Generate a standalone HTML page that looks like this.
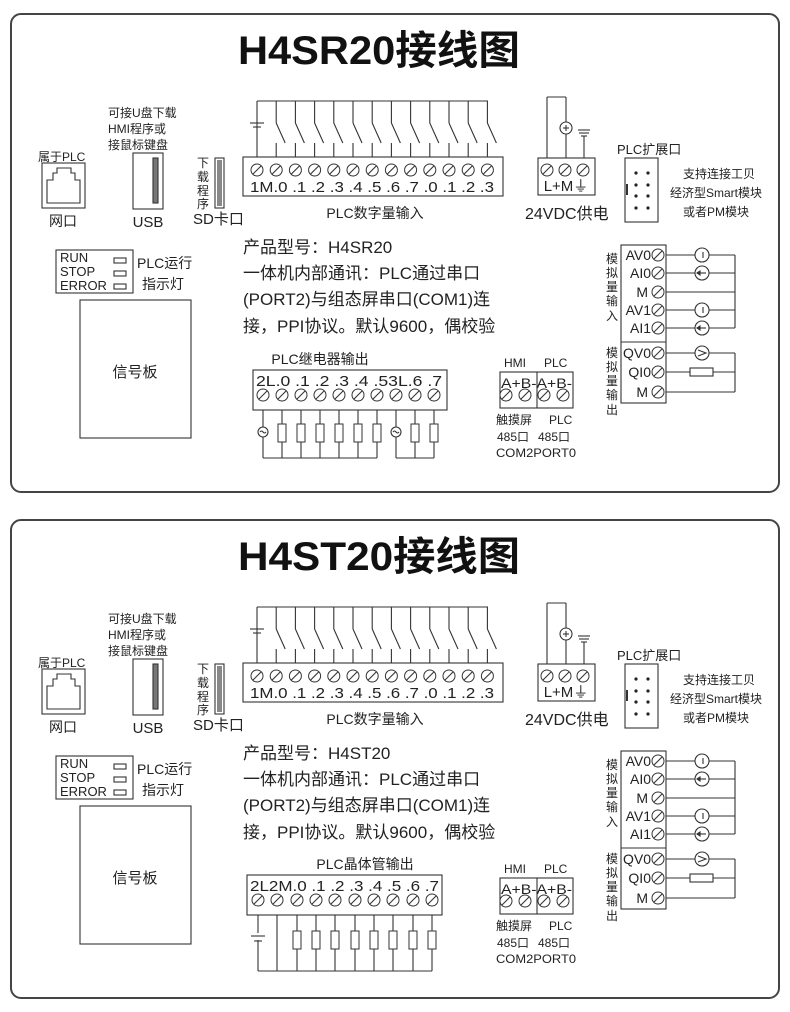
<!DOCTYPE html>
<html><head><meta charset="utf-8"><style>
html,body{margin:0;padding:0;background:#fff;}
svg{display:block;font-family:"Liberation Sans","Noto Sans CJK SC",sans-serif;}
</style></head><body>
<svg width="790" height="1012" viewBox="0 0 790 1012" xmlns="http://www.w3.org/2000/svg">
<defs>
<g id="s"><circle r="6" fill="#fff" stroke="#333" stroke-width="1"/><line x1="-4" y1="4" x2="4" y2="-4" stroke="#333" stroke-width="1.1"/></g>
<g id="res"><rect x="-4" y="-9" width="8" height="18" fill="#fff" stroke="#333" stroke-width="1"/></g>
<g id="sw">
<line x1="0" y1="0" x2="0" y2="22" /><line x1="0" y1="22" x2="9" y2="42"/><line x1="0" y1="42" x2="0" y2="63"/>
</g>
<g id="common" stroke="#333" fill="none" stroke-width="1.1">
 <line x1="257" y1="101" x2="488" y2="101"/>
 <line x1="257" y1="101" x2="257" y2="164"/>
 <line x1="250" y1="123" x2="264" y2="123"/><line x1="253" y1="127" x2="261" y2="127"/>
 <use href="#sw" x="276.2" y="101"/><use href="#sw" x="295.4" y="101"/><use href="#sw" x="314.6" y="101"/>
 <use href="#sw" x="333.8" y="101"/><use href="#sw" x="353" y="101"/><use href="#sw" x="372.2" y="101"/>
 <use href="#sw" x="391.4" y="101"/><use href="#sw" x="410.6" y="101"/><use href="#sw" x="429.8" y="101"/>
 <use href="#sw" x="449" y="101"/><use href="#sw" x="468.2" y="101"/><use href="#sw" x="487.4" y="101"/>
 <rect x="243" y="157" width="260" height="39" fill="#fff"/>
 <use href="#s" x="257" y="170"/><use href="#s" x="276.2" y="170"/><use href="#s" x="295.4" y="170"/><use href="#s" x="314.6" y="170"/>
 <use href="#s" x="333.8" y="170"/><use href="#s" x="353" y="170"/><use href="#s" x="372.2" y="170"/><use href="#s" x="391.4" y="170"/>
 <use href="#s" x="410.6" y="170"/><use href="#s" x="429.8" y="170"/><use href="#s" x="449" y="170"/><use href="#s" x="468.2" y="170"/><use href="#s" x="487.4" y="170"/>
 <rect x="42" y="163" width="43" height="45"/>
 <path d="M47 203 V180 H53 V173 H57 V168 H71 V173 H75 V180 H80 V203 Z"/>
 <rect x="133" y="153" width="30" height="56"/>
 <rect x="153" y="158" width="5" height="45" fill="#777"/>
 <rect x="215" y="158" width="9" height="50"/>
 <rect x="217" y="160" width="5" height="46" fill="#888" stroke="none"/>
 <rect x="56" y="250" width="77" height="43"/>
 <rect x="114" y="258" width="12" height="5"/><rect x="114" y="271" width="12" height="5"/><rect x="114" y="284" width="12" height="5"/>
 <rect x="80" y="300" width="111" height="138"/>
 <line x1="547" y1="163" x2="547" y2="97"/><line x1="547" y1="97" x2="566" y2="97"/><line x1="566" y1="97" x2="566" y2="163"/>
 <circle cx="566" cy="128" r="6" fill="#fff"/>
 <line x1="563" y1="128" x2="569" y2="128"/><line x1="566" y1="125" x2="566" y2="131"/>
 <line x1="584" y1="163" x2="584" y2="136"/>
 <line x1="578" y1="130" x2="590" y2="130"/><line x1="579" y1="133" x2="589" y2="133"/><line x1="581" y1="136" x2="587" y2="136"/>
 <rect x="538" y="158" width="57" height="37" fill="#fff"/>
 <use href="#s" x="547" y="170"/><use href="#s" x="565" y="170"/><use href="#s" x="583" y="170"/>
 <rect x="625" y="158" width="33" height="64"/>
 <line x1="627" y1="184" x2="627" y2="195" stroke-width="2"/>
 <g fill="#222" stroke="none">
  <circle cx="636" cy="173" r="1.6"/><circle cx="648" cy="173" r="1.6"/>
  <circle cx="636" cy="185" r="1.6"/><circle cx="648" cy="185" r="1.6"/>
  <circle cx="636" cy="196" r="1.6"/><circle cx="648" cy="196" r="1.6"/>
  <circle cx="636" cy="208" r="1.6"/><circle cx="648" cy="208" r="1.6"/>
 </g>
 <rect x="500" y="372" width="73" height="36"/>
 <line x1="537" y1="372" x2="537" y2="408"/>
 <use href="#s" x="506" y="395"/><use href="#s" x="525" y="395"/><use href="#s" x="544" y="395"/><use href="#s" x="563" y="395"/>
 <line x1="664" y1="255" x2="735" y2="255"/><line x1="664" y1="273" x2="735" y2="273"/><line x1="664" y1="292" x2="735" y2="292"/>
 <line x1="664" y1="310" x2="735" y2="310"/><line x1="664" y1="328" x2="735" y2="328"/>
 <line x1="735" y1="255" x2="735" y2="328"/>
 <line x1="664" y1="353" x2="735" y2="353"/><line x1="664" y1="372" x2="735" y2="372"/><line x1="664" y1="392" x2="735" y2="392"/>
 <line x1="735" y1="353" x2="735" y2="392"/>
 <circle cx="702" cy="255" r="7" fill="#fff"/><circle cx="702" cy="273" r="7" fill="#fff"/>
 <circle cx="702" cy="310" r="7" fill="#fff"/><circle cx="702" cy="328" r="7" fill="#fff"/>
 <circle cx="702" cy="353" r="7" fill="#fff"/>
 <path d="M698 350 L706 353 L698 356" />
 <rect x="690" y="368" width="23" height="8" fill="#fff"/>
 <line x1="697" y1="273" x2="706" y2="273"/><line x1="697" y1="328" x2="706" y2="328"/>
 <path d="M697 273 l3 -2 v4 z M697 328 l3 -2 v4 z" fill="#333"/>
 <line x1="703" y1="252" x2="703" y2="258"/><line x1="703" y1="307" x2="703" y2="313"/>
 <rect x="621" y="245" width="45" height="158" fill="#fff"/>
 <line x1="621" y1="342" x2="666" y2="342"/>
 <use href="#s" x="658" y="255"/><use href="#s" x="658" y="273"/><use href="#s" x="658" y="292"/><use href="#s" x="658" y="310"/>
 <use href="#s" x="658" y="328"/><use href="#s" x="658" y="353"/><use href="#s" x="658" y="372"/><use href="#s" x="658" y="392"/>
 <g fill="#222" stroke="none">
  <text x="250" y="192" font-size="15" textLength="244" lengthAdjust="spacingAndGlyphs">1M.0 .1 .2 .3 .4 .5 .6 .7 .0 .1 .2 .3</text>
  <text x="375" y="218" font-size="14" text-anchor="middle">PLC数字量输入</text>
  <text x="38" y="161" font-size="12">属于PLC</text>
  <text x="63" y="226" font-size="14" text-anchor="middle">网口</text>
  <text x="108" y="117" font-size="12">可接U盘下载</text>
  <text x="108" y="133" font-size="12">HMI程序或</text>
  <text x="108" y="149" font-size="12">接鼠标键盘</text>
  <text x="148" y="227" font-size="15" text-anchor="middle">USB</text>
  <text x="203" y="167" font-size="12" text-anchor="middle">下</text>
  <text x="203" y="181" font-size="12" text-anchor="middle">载</text>
  <text x="203" y="195" font-size="12" text-anchor="middle">程</text>
  <text x="203" y="208" font-size="12" text-anchor="middle">序</text>
  <text x="193" y="224" font-size="15">SD卡口</text>
  <text x="60" y="262" font-size="13">RUN</text>
  <text x="60" y="276" font-size="13">STOP</text>
  <text x="60" y="290" font-size="13">ERROR</text>
  <text x="137" y="268" font-size="14">PLC运行</text>
  <text x="142" y="289" font-size="14">指示灯</text>
  <text x="135" y="377" font-size="15" text-anchor="middle">信号板</text>
  <text x="243" y="279" font-size="17">一体机内部通讯：PLC通过串口</text>
  <text x="243" y="305" font-size="17">(PORT2)与组态屏串口(COM1)连</text>
  <text x="243" y="332" font-size="17">接，PPI协议。默认9600，偶校验</text>
  <text x="566" y="191" font-size="15" text-anchor="middle">L+M⏚</text>
  <text x="525" y="219" font-size="16">24VDC供电</text>
  <text x="617" y="154" font-size="13">PLC扩展口</text>
  <text x="719" y="178" font-size="12" text-anchor="middle">支持连接工贝</text>
  <text x="716" y="197" font-size="12" text-anchor="middle">经济型Smart模块</text>
  <text x="716" y="216" font-size="12" text-anchor="middle">或者PM模块</text>
  <text x="504" y="367" font-size="12">HMI</text><text x="544" y="367" font-size="12">PLC</text>
  <text x="501" y="388" font-size="14" textLength="71" lengthAdjust="spacingAndGlyphs">A+B-A+B-</text>
  <text x="496" y="424" font-size="12">触摸屏</text><text x="549" y="424" font-size="12">PLC</text>
  <text x="497" y="441" font-size="12">485口</text><text x="538" y="441" font-size="12">485口</text>
  <text x="496" y="457" font-size="12" textLength="80" lengthAdjust="spacingAndGlyphs">COM2PORT0</text>
  <g font-size="14" text-anchor="end">
   <text x="651" y="260">AV0</text><text x="651" y="278">AI0</text><text x="648" y="297">M</text>
   <text x="651" y="315">AV1</text><text x="651" y="333">AI1</text><text x="651" y="358">QV0</text>
   <text x="651" y="377">QI0</text><text x="648" y="397">M</text>
  </g>
  <g font-size="12" text-anchor="middle">
   <text x="612" y="263">模</text><text x="612" y="277">拟</text><text x="612" y="291">量</text><text x="612" y="305">输</text><text x="612" y="320">入</text>
   <text x="612" y="357">模</text><text x="612" y="371">拟</text><text x="612" y="385">量</text><text x="612" y="399">输</text><text x="612" y="414">出</text>
  </g>
 </g>
</g>
</defs>

<rect x="11" y="14" width="768" height="478" rx="10" fill="none" stroke="#444" stroke-width="2"/>
<rect x="11" y="520" width="768" height="478" rx="10" fill="none" stroke="#444" stroke-width="2"/>

<use href="#common"/>
<use href="#common" y="506"/>

<text x="238" y="64" font-size="40" font-weight="bold" fill="#111" textLength="282" lengthAdjust="spacingAndGlyphs">H4SR20接线图</text>
<text x="243" y="253" font-size="17" fill="#222">产品型号：H4SR20</text>
<text x="320" y="364" font-size="14" fill="#222" text-anchor="middle">PLC继电器输出</text>
<g stroke="#333" fill="none" stroke-width="1.1">
 <line x1="263" y1="393" x2="263" y2="458"/><line x1="282" y1="393" x2="282" y2="458"/><line x1="301" y1="393" x2="301" y2="458"/>
 <line x1="320" y1="393" x2="320" y2="458"/><line x1="339" y1="393" x2="339" y2="458"/><line x1="358" y1="393" x2="358" y2="458"/>
 <line x1="377" y1="393" x2="377" y2="458"/><line x1="396" y1="393" x2="396" y2="458"/><line x1="415" y1="393" x2="415" y2="458"/>
 <line x1="434" y1="393" x2="434" y2="458"/>
 <line x1="263" y1="458" x2="377" y2="458"/><line x1="396" y1="458" x2="434" y2="458"/>
 <circle cx="263" cy="432" r="5" fill="#fff"/><circle cx="396" cy="432" r="5" fill="#fff"/>
 <path d="M260 432 q1.5 -2 3 0 t3 0"/><path d="M393 432 q1.5 -2 3 0 t3 0"/>
 <use href="#res" x="282" y="433"/><use href="#res" x="301" y="433"/><use href="#res" x="320" y="433"/>
 <use href="#res" x="339" y="433"/><use href="#res" x="358" y="433"/><use href="#res" x="377" y="433"/>
 <use href="#res" x="415" y="433"/><use href="#res" x="434" y="433"/>
 <rect x="253" y="370" width="194" height="40" fill="#fff"/>
 <use href="#s" x="263" y="395"/><use href="#s" x="282" y="395"/><use href="#s" x="301" y="395"/><use href="#s" x="320" y="395"/>
 <use href="#s" x="339" y="395"/><use href="#s" x="358" y="395"/><use href="#s" x="377" y="395"/><use href="#s" x="396" y="395"/>
 <use href="#s" x="415" y="395"/><use href="#s" x="434" y="395"/>
</g>
<text x="256" y="386" font-size="15" fill="#222" textLength="186" lengthAdjust="spacingAndGlyphs">2L.0 .1 .2 .3 .4 .53L.6 .7</text>

<text x="238" y="570" font-size="40" font-weight="bold" fill="#111" textLength="282" lengthAdjust="spacingAndGlyphs">H4ST20接线图</text>
<text x="243" y="759" font-size="17" fill="#222">产品型号：H4ST20</text>
<text x="365" y="869" font-size="14" fill="#222" text-anchor="middle">PLC晶体管输出</text>
<g stroke="#333" fill="none" stroke-width="1.1">
 <line x1="258" y1="900" x2="258" y2="971"/><line x1="277" y1="900" x2="277" y2="971"/><line x1="297" y1="900" x2="297" y2="971"/>
 <line x1="316" y1="900" x2="316" y2="971"/><line x1="335" y1="900" x2="335" y2="971"/><line x1="355" y1="900" x2="355" y2="971"/>
 <line x1="374" y1="900" x2="374" y2="971"/><line x1="393" y1="900" x2="393" y2="971"/><line x1="413" y1="900" x2="413" y2="971"/>
 <line x1="432" y1="900" x2="432" y2="971"/>
 <line x1="258" y1="971" x2="432" y2="971"/>
 <line x1="251" y1="936" x2="265" y2="936" stroke="#fff" stroke-width="6"/>
 <line x1="251" y1="936" x2="265" y2="936"/><line x1="254" y1="941" x2="262" y2="941"/>
 <line x1="258" y1="937" x2="258" y2="940" stroke="#fff" stroke-width="3"/>
 <use href="#res" x="297" y="940"/><use href="#res" x="316" y="940"/><use href="#res" x="335" y="940"/>
 <use href="#res" x="355" y="940"/><use href="#res" x="374" y="940"/><use href="#res" x="393" y="940"/>
 <use href="#res" x="413" y="940"/><use href="#res" x="432" y="940"/>
 <rect x="247" y="875" width="195" height="40" fill="#fff"/>
 <use href="#s" x="258" y="900"/><use href="#s" x="277" y="900"/><use href="#s" x="297" y="900"/><use href="#s" x="316" y="900"/>
 <use href="#s" x="335" y="900"/><use href="#s" x="355" y="900"/><use href="#s" x="374" y="900"/><use href="#s" x="393" y="900"/>
 <use href="#s" x="413" y="900"/><use href="#s" x="432" y="900"/>
</g>
<text x="250" y="891" font-size="15" fill="#222" textLength="189" lengthAdjust="spacingAndGlyphs">2L2M.0 .1 .2 .3 .4 .5 .6 .7</text>
</svg>
</body></html>
